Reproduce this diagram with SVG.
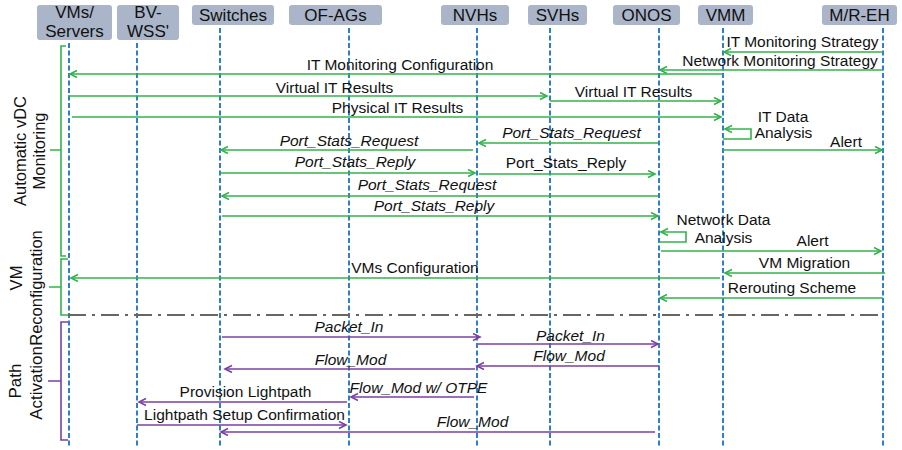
<svg xmlns="http://www.w3.org/2000/svg" width="902" height="450" viewBox="0 0 902 450">
  <style>
    .box { fill: #aab5c9; stroke: none; }
    .hdr { font-family: "Liberation Sans", Arial, sans-serif; font-size: 17px; fill: #111; text-anchor: middle; }
    .life { stroke: #2f7ec8; stroke-width: 2; stroke-dasharray: 5 2.5; fill: none; }
    .g { stroke: #33b24c; stroke-width: 1.6; fill: none; }
    .p { stroke: #7b3fa5; stroke-width: 1.6; fill: none; }
    .ga { marker-end: url(#arrG); }
    .pa { marker-end: url(#arrP); }
    .lbl { font-family: "Liberation Sans", Arial, sans-serif; font-size: 15.5px; fill: #111; text-anchor: middle; }
    .it { font-style: italic; }
    .side { font-family: "Liberation Sans", Arial, sans-serif; font-size: 16.5px; fill: #111; text-anchor: middle; }
    .sep { stroke: #666; stroke-width: 2; stroke-dasharray: 18 6 3 6; fill: none; }
  </style>
  <defs>
    <marker id="arrG" markerUnits="userSpaceOnUse" markerWidth="10" markerHeight="10" refX="8" refY="4" orient="auto">
      <path d="M1,0.5 L8,4 L1,7.5" fill="none" stroke="#33b24c" stroke-width="1.6"/>
    </marker>
    <marker id="arrP" markerUnits="userSpaceOnUse" markerWidth="10" markerHeight="10" refX="8" refY="4" orient="auto">
      <path d="M1,0.5 L8,4 L1,7.5" fill="none" stroke="#7b3fa5" stroke-width="1.6"/>
    </marker>
  </defs>

  <!-- participants: header box + lifeline -->
  <g id="vms">
    <rect class="box" x="37" y="5" width="75" height="35" rx="3"/>
    <text class="hdr" x="74.5" y="18">VMs/</text>
    <text class="hdr" x="74.5" y="37">Servers</text>
    <line class="life" x1="69" y1="43" x2="69" y2="447"/>
  </g>
  <g id="bvwss">
    <rect class="box" x="117" y="5" width="62" height="35" rx="3"/>
    <text class="hdr" x="148" y="18">BV-</text>
    <text class="hdr" x="148" y="37">WSS'</text>
    <line class="life" x1="137" y1="43" x2="137" y2="447"/>
  </g>
  <g id="switches">
    <rect class="box" x="192" y="5" width="82" height="20" rx="3"/>
    <text class="hdr" x="233" y="21">Switches</text>
    <line class="life" x1="220" y1="28" x2="220" y2="447"/>
  </g>
  <g id="ofags">
    <rect class="box" x="289" y="5" width="93" height="20" rx="3"/>
    <text class="hdr" x="335.5" y="21">OF-AGs</text>
    <line class="life" x1="349" y1="28" x2="349" y2="447"/>
  </g>
  <g id="nvhs">
    <rect class="box" x="441" y="5" width="68" height="20" rx="3"/>
    <text class="hdr" x="475" y="21">NVHs</text>
    <line class="life" x1="477" y1="28" x2="477" y2="447"/>
  </g>
  <g id="svhs">
    <rect class="box" x="528" y="5" width="59" height="20" rx="3"/>
    <text class="hdr" x="557.5" y="21">SVHs</text>
    <line class="life" x1="550" y1="28" x2="550" y2="447"/>
  </g>
  <g id="onos">
    <rect class="box" x="613" y="5" width="67" height="20" rx="3"/>
    <text class="hdr" x="646.5" y="21">ONOS</text>
    <line class="life" x1="659" y1="28" x2="659" y2="447"/>
  </g>
  <g id="vmm">
    <rect class="box" x="698" y="5" width="55" height="20" rx="3"/>
    <text class="hdr" x="725.5" y="21">VMM</text>
    <line class="life" x1="723" y1="28" x2="723" y2="447"/>
  </g>
  <g id="mreh">
    <rect class="box" x="822" y="5" width="75" height="20" rx="3"/>
    <text class="hdr" x="859.5" y="21">M/R-EH</text>
    <line class="life" x1="883" y1="28" x2="883" y2="447"/>
  </g>

  <!-- phase brackets and their labels -->
  <g id="phase-monitoring">
    <path class="g" d="M66,46 H61 V256 H66 M50,150 H61"/>
    <text class="side" transform="translate(26,151) rotate(-90)">Automatic vDC</text>
    <text class="side" transform="translate(45,151) rotate(-90)">Monitoring</text>
  </g>
  <g id="phase-reconfiguration">
    <path class="g" d="M68,259 H61 V315 H68 M49,287 H61"/>
    <text class="side" transform="translate(22,278) rotate(-90)">VM</text>
    <text class="side" transform="translate(42,288) rotate(-90)">Reconfiguration</text>
  </g>
  <g id="phase-activation">
    <path class="p" d="M68,322 H61 V440 H68 M48,381 H61"/>
    <text class="side" style="font-size:17px" transform="translate(21,381) rotate(-90)">Path</text>
    <text class="side" style="font-size:17px" transform="translate(42,383) rotate(-90)">Activation</text>
  </g>

  <!-- separator between reconfiguration and path activation -->
  <line class="sep" x1="68" y1="315" x2="883" y2="315"/>

  <!-- message connectors -->
  <g id="connectors">
    <line class="g ga" x1="883" y1="52" x2="724" y2="52"/>
    <line class="g ga" x1="883" y1="70" x2="660" y2="70"/>
    <line class="g ga" x1="722" y1="74" x2="70" y2="74"/>
    <line class="g ga" x1="68" y1="96" x2="547" y2="96"/>
    <line class="g ga" x1="550" y1="101" x2="721" y2="101"/>
    <line class="g ga" x1="72" y1="117" x2="721" y2="117"/>
    <polyline class="g ga" points="723,139 751,139 751,129 725,129"/>
    <line class="g ga" x1="723" y1="150" x2="882" y2="150"/>
    <line class="g ga" x1="658" y1="143" x2="479" y2="143"/>
    <line class="g ga" x1="473" y1="150" x2="221" y2="150"/>
    <line class="g ga" x1="220" y1="173" x2="475" y2="173"/>
    <line class="g ga" x1="479" y1="174" x2="655" y2="174"/>
    <line class="g ga" x1="658" y1="196" x2="222" y2="196"/>
    <line class="g ga" x1="222" y1="216" x2="658" y2="216"/>
    <polyline class="g ga" points="659,242 686,242 686,232 661,232"/>
    <line class="g ga" x1="661" y1="251" x2="881" y2="251"/>
    <line class="g ga" x1="885" y1="273" x2="725" y2="273"/>
    <line class="g ga" x1="720" y1="278" x2="71" y2="278"/>
    <line class="g ga" x1="883" y1="298" x2="660" y2="298"/>

    <line class="p pa" x1="222" y1="337" x2="480" y2="337"/>
    <line class="p pa" x1="478" y1="344" x2="658" y2="344"/>
    <line class="p pa" x1="659" y1="366" x2="477" y2="366"/>
    <line class="p pa" x1="475" y1="369" x2="225" y2="369"/>
    <line class="p pa" x1="474" y1="397" x2="351" y2="397"/>
    <line class="p pa" x1="347" y1="402" x2="139" y2="402"/>
    <line class="p pa" x1="137" y1="425" x2="346" y2="425"/>
    <line class="p pa" x1="655" y1="432" x2="221" y2="432"/>
  </g>

  <!-- message labels -->
  <g id="labels">
    <text class="lbl" x="802.5" y="47">IT Monitoring Strategy</text>
    <text class="lbl" x="780" y="66">Network Monitoring Strategy</text>
    <text class="lbl" x="400" y="70">IT Monitoring Configuration</text>
    <text class="lbl" x="334.5" y="93">Virtual IT Results</text>
    <text class="lbl" x="633.5" y="97">Virtual IT Results</text>
    <text class="lbl" x="397.5" y="113">Physical IT Results</text>
    <text class="lbl" x="783" y="122">IT Data</text>
    <text class="lbl" x="783.5" y="138">Analysis</text>
    <text class="lbl" x="846" y="147">Alert</text>
    <text class="lbl it" x="571.5" y="138">Port_Stats_Request</text>
    <text class="lbl it" x="349" y="146">Port_Stats_Request</text>
    <text class="lbl it" x="355" y="167">Port_Stats_Reply</text>
    <text class="lbl" x="566" y="168">Port_Stats_Reply</text>
    <text class="lbl it" x="427" y="190">Port_Stats_Request</text>
    <text class="lbl it" x="434" y="211">Port_Stats_Reply</text>
    <text class="lbl" x="723.5" y="225">Network Data</text>
    <text class="lbl" x="723.5" y="243">Analysis</text>
    <text class="lbl" x="812.5" y="246">Alert</text>
    <text class="lbl" x="804.5" y="268">VM Migration</text>
    <text class="lbl" x="415" y="273">VMs Configuration</text>
    <text class="lbl" x="792" y="293">Rerouting Scheme</text>
    <text class="lbl it" x="349" y="332">Packet_In</text>
    <text class="lbl it" x="570.5" y="341">Packet_In</text>
    <text class="lbl it" x="569" y="361">Flow_Mod</text>
    <text class="lbl it" x="350.5" y="365">Flow_Mod</text>
    <text class="lbl it" x="418.5" y="393">Flow_Mod w/ OTPE</text>
    <text class="lbl" x="245.5" y="397">Provision Lightpath</text>
    <text class="lbl" x="244.5" y="420">Lightpath Setup Confirmation</text>
    <text class="lbl it" x="472.5" y="427">Flow_Mod</text>
  </g>
</svg>
